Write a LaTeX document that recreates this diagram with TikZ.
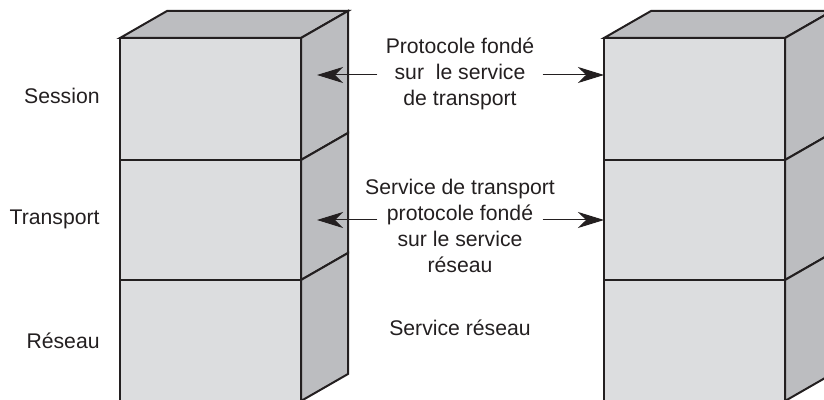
\documentclass[tikz,border=0pt]{standalone}
\usepackage{fontspec}
\setmainfont{Liberation Sans}
\usetikzlibrary{arrows.meta}
\definecolor{ink}{HTML}{231F20}
\definecolor{frontgray}{HTML}{DCDDDF}
\definecolor{sidegray}{HTML}{BCBDC0}
\begin{document}
\begin{tikzpicture}[x=0.5pt, y=-0.5pt, >={Stealth[length=13pt, width=8pt, inset=4pt]},
  front/.style={fill=frontgray, draw=ink, line width=1pt},
  side/.style={fill=sidegray, draw=ink, line width=1pt},
  lbl/.style={anchor=east, inner sep=0pt, text=ink, font=\fontsize{10.6}{13}\selectfont},
  txt/.style={align=center, inner sep=4pt, text=ink, font=\fontsize{10.6}{13}\selectfont},
  link/.style={->, draw=ink, line width=0.5pt}]
\useasboundingbox (0,0) rectangle (824,400);
\clip (0,0) rectangle (824,400);
% the two stacks
\foreach \x in {120,604} {
  \draw[side] (\x,38) -- ++(47,-27) -- ++(181,0) -- ++(-47,27) -- cycle;
  \foreach \yt/\yb in {38/160,160/280,280/401} {
    \draw[front] (\x,\yt) rectangle (\x+181,\yb);
    \draw[side] (\x+181,\yt) -- ++(47,-27) -- (\x+228,\yb-27) -- (\x+181,\yb) -- cycle;
  }
}
% layer names
\node[lbl] (session) at (100,96) {Session};
\node[lbl] (transport) at (100,219) {Transport};
\node[lbl] (reseau) at (100,341) {Réseau};
% texts between the stacks
\node[txt] (t1) at (460,74) {Protocole fondé\\sur \ le service\\de transport};
\node[txt] (t2) at (460,226) {Service de transport\\protocole fondé\\sur le service\\réseau};
\node[txt] (t3) at (460,328) {Service réseau};
\coordinate (l1) at (317,75);
\coordinate (r1) at (604,75);
\coordinate (l2) at (317,220);
\coordinate (r2) at (604,220);
\draw[link] (t1.west |- l1) -- (l1);
\draw[link] (t1.east |- r1) -- (r1);
\draw[link] (t1.west |- l2) -- (l2);
\draw[link] (t1.east |- r2) -- (r2);
\end{tikzpicture}
\end{document}
